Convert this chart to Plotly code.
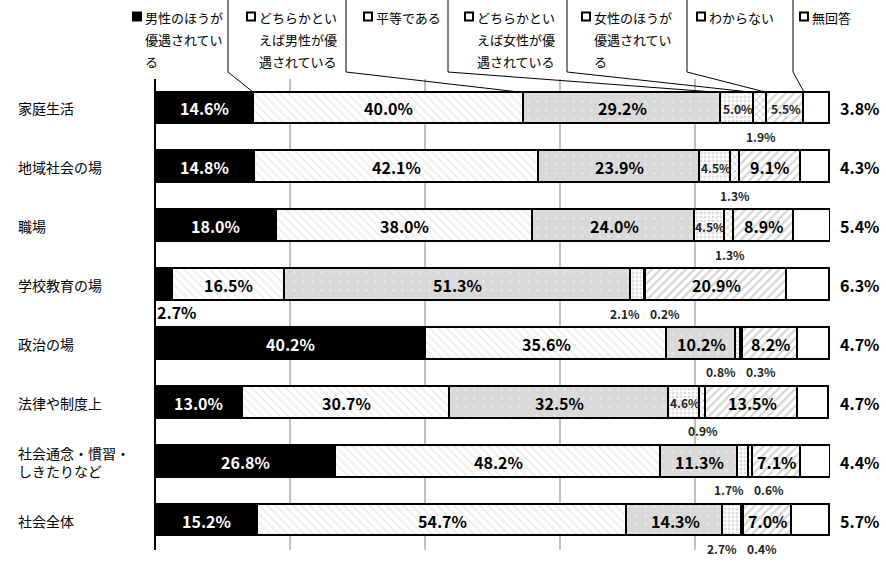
import plotly.graph_objects as go

# ---------------- data ----------------
categories = ["家庭生活", "地域社会の場", "職場", "学校教育の場", "政治の場",
              "法律や制度上", "社会通念・慣習・しきたりなど", "社会全体"]
category_labels = ["家庭生活", "地域社会の場", "職場", "学校教育の場", "政治の場",
                   "法律や制度上", "社会通念・慣習・<br>しきたりなど", "社会全体"]
series_names = ["男性のほうが優遇されている", "どちらかといえば男性が優遇されている",
                "平等である", "どちらかといえば女性が優遇されている",
                "女性のほうが優遇されている", "わからない", "無回答"]

male_strong = [14.6, 14.8, 18.0, 2.7, 40.2, 13.0, 26.8, 15.2]
male_some = [40.0, 42.1, 38.0, 16.5, 35.6, 30.7, 48.2, 54.7]
equal = [29.2, 23.9, 24.0, 51.3, 10.2, 32.5, 11.3, 14.3]
female_some = [5.0, 4.5, 4.5, 2.1, 0.8, 4.6, 1.7, 2.7]
female_strong = [1.9, 1.3, 1.3, 0.2, 0.3, 0.9, 0.6, 0.4]
unknown = [5.5, 9.1, 8.9, 20.9, 8.2, 13.5, 7.1, 7.0]
no_answer = [3.8, 4.3, 5.4, 6.3, 4.7, 4.7, 4.4, 5.7]

series = [male_strong, male_some, equal, female_some, female_strong, unknown, no_answer]

# ---------------- layout constants ----------------
W, H = 886, 569
ML, MR, MT, MB = 155, 56, 79, 19
PW, PH = W - ML - MR, H - MT - MB
BAR_W = 0.54
FONT = "Noto Sans CJK JP"

def px_x(px):
    return (px - ML) / PW

def px_y(py):
    return (H - MB - py) / PH

styles = [
    dict(color="black"),
    dict(color="white", pattern=dict(shape="\\", fgcolor="#d6d6d6", bgcolor="white",
                                     size=6, solidity=0.25, fillmode="overlay")),
    dict(color="#d9d9d9", pattern=dict(shape=".", fgcolor="white", bgcolor="#d9d9d9",
                                       size=9, solidity=0.05, fillmode="overlay")),
    dict(color="white", pattern=dict(shape=".", fgcolor="#bdbdbd", bgcolor="white",
                                     size=4, solidity=0.45, fillmode="overlay")),
    dict(color="white", pattern=dict(shape="x", fgcolor="#8c8c8c", bgcolor="white",
                                     size=5, solidity=0.3, fillmode="overlay")),
    dict(color="white", pattern=dict(shape="/", fgcolor="#a8a8a8", bgcolor="white",
                                     size=6, solidity=0.35, fillmode="overlay")),
    dict(color="white"),
]

fig = go.Figure()
for name, vals, st in zip(series_names, series, styles):
    marker = dict(color=st["color"], line=dict(color="black", width=1.8))
    if "pattern" in st:
        marker["pattern"] = st["pattern"]
    fig.add_trace(go.Bar(
        y=categories, x=vals, name=name, orientation="h", width=BAR_W,
        marker=marker, hoverinfo="x+name", showlegend=False,
    ))

annotations = []
n = len(categories)

# value labels
for i, cat in enumerate(categories):
    cum = 0.0
    starts = []
    for s in series:
        starts.append(cum)
        cum += s[i]
    for j, s in enumerate(series):
        v = s[i]
        x0 = starts[j]
        x1 = x0 + v
        txt = f"<b>{v:.1f}%</b>"
        if j == len(series) - 1:
            annotations.append(dict(x=100, y=cat, xref="x", yref="y", text=txt,
                                    showarrow=False, xanchor="center", xshift=30,
                                    font=dict(family=FONT, size=16, color="black")))
            continue
        if v >= 6:
            annotations.append(dict(x=(x0 + x1) / 2, y=cat, xref="x", yref="y", text=txt,
                                    showarrow=False,
                                    font=dict(family=FONT, size=16,
                                              color="white" if j == 0 else "black")))
        elif v >= 4:
            annotations.append(dict(x=(x0 + x1) / 2, y=cat, xref="x", yref="y", text=txt,
                                    showarrow=False,
                                    font=dict(family=FONT, size=12, color="#222222")))
        else:
            if j == 0:
                annotations.append(dict(x=0, y=cat, xref="x", yref="y", text=txt,
                                        showarrow=False, xanchor="left", yshift=-27,
                                        font=dict(family=FONT, size=16, color="black")))
            elif j == 3:
                annotations.append(dict(x=x1, y=cat, xref="x", yref="y", text=txt,
                                        showarrow=False, xanchor="right", xshift=-3, yshift=-28,
                                        font=dict(family=FONT, size=12, color="#222222")))
            elif j == 4:
                if series[3][i] < 4:
                    annotations.append(dict(x=x0, y=cat, xref="x", yref="y", text=txt,
                                            showarrow=False, xanchor="left", xshift=3, yshift=-28,
                                            font=dict(family=FONT, size=12, color="#222222")))
                else:
                    annotations.append(dict(x=(x0 + x1) / 2, y=cat, xref="x", yref="y", text=txt,
                                            showarrow=False, xanchor="center", yshift=-28,
                                            font=dict(family=FONT, size=12, color="#222222")))

# category labels
for cat, lab in zip(categories, category_labels):
    annotations.append(dict(x=px_x(16), y=cat, xref="paper", yref="y", text=lab,
                            showarrow=False, xanchor="left", align="left",
                            font=dict(family=FONT, size=14, color="black")))

# legend (custom, above the plot)
legend_marker_px = [133, 247, 364, 465, 582, 697, 800]
legend_line_px = [17, 39, 61]
leader_px = [228, 346, 448, 567, 687, 793]
shapes = []
for k, name in enumerate(series_names):
    mx = legend_marker_px[k]
    shapes.append(dict(type="rect", xref="paper", yref="paper",
                       x0=px_x(mx), x1=px_x(mx + 8), y0=px_y(20.5), y1=px_y(12.5),
                       line=dict(color="black", width=2),
                       fillcolor="black" if k == 0 else "white"))
    chunks = [name[p:p + 6] for p in range(0, len(name), 6)]
    for li, chunk in enumerate(chunks):
        annotations.append(dict(x=px_x(mx + 10), y=px_y(legend_line_px[li]),
                                xref="paper", yref="paper", text=chunk, showarrow=False,
                                xanchor="left", yanchor="middle",
                                font=dict(family=FONT, size=13, color="black")))

# leader lines from legend to first bar segments
row0_center = 1 - 0.5 / n
bar_top = row0_center + (BAR_W / 2) / n
cum = 0.0
row0_starts = []
for s in series:
    row0_starts.append(cum)
    cum += s[0]
for k in range(1, len(series)):
    lx = px_x(leader_px[k - 1])
    ex = row0_starts[k] / 100
    shapes.append(dict(type="path", xref="paper", yref="paper",
                       path=f"M {lx},{px_y(0)} L {lx},{px_y(72)} L {ex},{bar_top}",
                       line=dict(color="black", width=1)))

fig.update_layout(
    barmode="stack",
    width=W, height=H,
    margin=dict(l=ML, r=MR, t=MT, b=MB),
    paper_bgcolor="white", plot_bgcolor="white",
    font=dict(family=FONT, color="black"),
    xaxis=dict(range=[0, 100], tickvals=[20, 40, 60, 80, 100], showticklabels=False,
               showgrid=True, gridcolor="#bfbfbf", gridwidth=2,
               zeroline=True, zerolinecolor="black", zerolinewidth=2,
               showline=False, fixedrange=True),
    yaxis=dict(categoryorder="array", categoryarray=categories, range=[n - 0.5, -0.5],
               showticklabels=False, showgrid=False, zeroline=False, showline=False,
               fixedrange=True),
    annotations=annotations,
    shapes=shapes,
    bargap=0,
)

fig.write_html("out.html")
